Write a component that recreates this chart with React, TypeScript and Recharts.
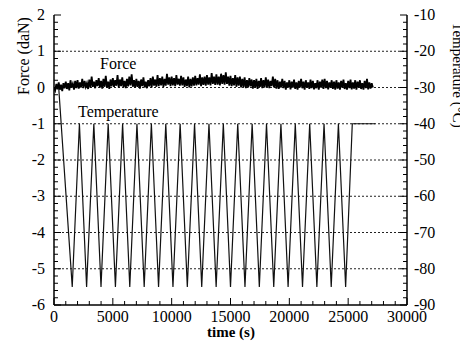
import { LineChart, Line, XAxis, YAxis, ReferenceLine } from 'recharts'

const FONT = '"Liberation Serif", "Times New Roman", Times, serif'

// axis labels / ticks
const xMajorTicks = [0, 5000, 10000, 15000, 20000, 25000, 30000]
const forceTicks = [-6, -5, -4, -3, -2, -1, 0, 1, 2]
const tempTicks = [-90, -80, -70, -60, -50, -40, -30, -20, -10]
const gridForce = [1, 0, -1, -2, -3, -4, -5]

// force (daN), sampled every 100 s from t = 0
const forceStep = 100
const forceValues = [
  0.0, -0.08, 0.1, -0.05, 0.14, -0.06, 0.08, -0.1, 0.12, -0.02,
  0.16, -0.04, 0.12, -0.08, 0.2, 0.0, 0.1, -0.06, 0.18, -0.02,
  0.2, -0.03, 0.14, 0.0, 0.24, -0.02, 0.18, 0.02, 0.12, -0.04,
  0.22, 0.0, 0.3, 0.02, 0.16, -0.02, 0.2, 0.04, 0.26, 0.0,
  0.18, -0.03, 0.24, 0.02, 0.32, 0.0, 0.16, -0.04, 0.22, 0.03,
  0.26, 0.02, 0.2, 0.05, 0.34, 0.0, 0.22, 0.04, 0.28, 0.01,
  0.18, -0.02, 0.24, 0.03, 0.3, 0.06, 0.36, 0.02, 0.2, 0.0,
  0.24, 0.02, 0.18, -0.03, 0.22, 0.04, 0.28, 0.0, 0.16, -0.02,
  0.2, 0.03, 0.26, 0.0, 0.3, 0.05, 0.22, 0.02, 0.34, 0.04,
  0.26, 0.06, 0.3, 0.02, 0.24, 0.05, 0.38, 0.08, 0.28, 0.04,
  0.3, 0.06, 0.26, 0.04, 0.34, 0.08, 0.24, 0.05, 0.32, 0.06,
  0.28, 0.02, 0.22, 0.04, 0.3, 0.0, 0.24, 0.03, 0.28, 0.05,
  0.32, 0.06, 0.26, 0.08, 0.36, 0.04, 0.28, 0.07, 0.3, 0.05,
  0.34, 0.08, 0.28, 0.06, 0.4, 0.1, 0.3, 0.07, 0.36, 0.08,
  0.3, 0.06, 0.38, 0.1, 0.34, 0.08, 0.42, 0.1, 0.3, 0.05,
  0.32, 0.04, 0.26, 0.06, 0.34, 0.02, 0.28, 0.05, 0.3, 0.0,
  0.24, 0.02, 0.28, -0.02, 0.2, 0.0, 0.26, 0.03, 0.22, -0.03,
  0.2, 0.0, 0.24, -0.04, 0.18, 0.02, 0.26, -0.02, 0.2, 0.0,
  0.28, 0.02, 0.22, -0.02, 0.18, 0.04, 0.3, 0.0, 0.24, -0.03,
  0.2, -0.04, 0.16, 0.0, 0.24, -0.02, 0.18, -0.06, 0.14, 0.0,
  0.2, -0.05, 0.16, 0.0, 0.22, -0.04, 0.14, -0.06, 0.18, 0.0,
  0.24, -0.02, 0.16, -0.06, 0.2, 0.0, 0.14, -0.04, 0.22, -0.02,
  0.18, -0.05, 0.12, -0.02, 0.2, -0.06, 0.16, 0.0, 0.22, -0.04,
  0.24, -0.02, 0.18, -0.05, 0.14, 0.0, 0.2, -0.04, 0.16, -0.06,
  0.2, -0.03, 0.14, -0.06, 0.18, 0.0, 0.22, -0.04, 0.12, -0.06,
  0.18, -0.02, 0.22, -0.05, 0.14, -0.03, 0.2, -0.06, 0.16, 0.0,
  0.2, -0.04, 0.12, -0.06, 0.18, -0.02, 0.24, -0.05, 0.14, -0.03,
  0.12, 0.0,
]

// temperature cycling (°C)
const tempTimes = [
  400, 1550, 2160, 2770, 3385, 3995, 4605, 5220, 5830, 6440, 7050, 7665, 8275, 8885,
  9500, 10110, 10720, 11330, 11945, 12555, 13170, 13780, 14390, 15000, 15615, 16230,
  16840, 17450, 18060, 18675, 19285, 19895, 20505, 21120, 21730, 22340, 22950, 23560,
  24170, 24785, 25350, 27300,
]
const tempValues = [
  -30, -85, -40, -85, -40, -85, -40, -85, -40, -85, -40, -85, -40, -85,
  -40, -85, -40, -85, -40, -85, -40, -85, -40, -85, -40, -85,
  -40, -85, -40, -85, -40, -85, -40, -85, -40, -85, -40, -85,
  -40, -85, -40, -40,
]

const forceData = forceValues.map((f, i) => ({ t: i * forceStep, f }))
const tempData = tempTimes.map((t, i) => ({ t, temp: tempValues[i] }))

// minor tick positions
const xAllTicks = Array.from({ length: 31 }, (_, i) => i * 1000)
const forceAllTicks = Array.from({ length: 41 }, (_, i) => -6 + i * 0.2)
const tempAllTicks = Array.from({ length: 41 }, (_, i) => -90 + i * 2)

const near = (list: number[], v: number) => list.some((m) => Math.abs(m - v) < 1e-6)
const txt = { fontSize: 16, fontFamily: FONT, fill: '#000', style: { fontFamily: FONT } }

function BottomTick({ x, y, payload }: any) {
  const v = payload.value
  const major = near(xMajorTicks, v)
  return (
    <g>
      <line x1={x} x2={x} y1={y} y2={y - (major ? 7 : 4)} stroke="#000" />
      {major && (
        <text x={x} y={y + 17} textAnchor="middle" {...txt}>
          {v}
        </text>
      )}
    </g>
  )
}

function TopTick({ x, y, payload }: any) {
  const major = near(xMajorTicks, payload.value)
  return <line x1={x} x2={x} y1={y} y2={y + (major ? 7 : 4)} stroke="#000" />
}

function LeftTick({ x, y, payload }: any) {
  const v = payload.value
  const major = near(forceTicks, v)
  return (
    <g>
      <line x1={x} x2={x + (major ? 7 : 4)} y1={y} y2={y} stroke="#000" />
      {major && (
        <text x={x - 9} y={y + 5} textAnchor="end" {...txt}>
          {Math.round(v)}
        </text>
      )}
    </g>
  )
}

function RightTick({ x, y, payload }: any) {
  const v = payload.value
  const major = near(tempTicks, v)
  return (
    <g>
      <line x1={x} x2={x - (major ? 7 : 4)} y1={y} y2={y} stroke="#000" />
      {major && (
        <text x={x + 7} y={y + 5} textAnchor="start" {...txt}>
          {Math.round(v)}
        </text>
      )}
    </g>
  )
}

export default function App() {
  return (
    <div style={{ position: 'absolute', left: 0, top: 0, width: 460, height: 343, background: '#fff' }}>
      <LineChart width={460} height={343} margin={{ top: 15, right: 0, bottom: 0, left: 0 }}>
        <XAxis
          xAxisId="b"
          dataKey="t"
          type="number"
          domain={[0, 30000]}
          ticks={xAllTicks}
          interval={0}
          tickSize={0}
          tickMargin={0}
          tickLine={false}
          tick={<BottomTick />}
          axisLine={{ stroke: '#000', strokeWidth: 1.5 }}
          height={38}
          allowDataOverflow
        />
        <XAxis
          xAxisId="top"
          orientation="top"
          dataKey="t"
          type="number"
          domain={[0, 30000]}
          ticks={xAllTicks}
          interval={0}
          tickSize={0}
          tickMargin={0}
          tickLine={false}
          tick={<TopTick />}
          axisLine={{ stroke: '#000', strokeWidth: 1.5 }}
          height={0}
          allowDataOverflow
        />
        <YAxis
          yAxisId="f"
          type="number"
          domain={[-6, 2]}
          ticks={forceAllTicks}
          interval={0}
          tickSize={0}
          tickMargin={0}
          tickLine={false}
          tick={<LeftTick />}
          axisLine={{ stroke: '#000', strokeWidth: 1.5 }}
          width={54}
          allowDataOverflow
        />
        <YAxis
          yAxisId="t"
          orientation="right"
          type="number"
          domain={[-90, -10]}
          ticks={tempAllTicks}
          interval={0}
          tickSize={0}
          tickMargin={0}
          tickLine={false}
          tick={<RightTick />}
          axisLine={{ stroke: '#000', strokeWidth: 1.5 }}
          width={53}
          allowDataOverflow
        />
        {gridForce.map((g) => (
          <ReferenceLine key={g} xAxisId="b" yAxisId="f" y={g} stroke="#222" strokeDasharray="2 2" />
        ))}
        <Line
          data={tempData}
          xAxisId="b"
          yAxisId="t"
          dataKey="temp"
          type="linear"
          stroke="#111"
          strokeWidth={1.2}
          dot={false}
          isAnimationActive={false}
        />
        <Line
          data={forceData}
          xAxisId="b"
          yAxisId="f"
          dataKey="f"
          type="linear"
          stroke="#000"
          strokeWidth={1.8}
          dot={false}
          isAnimationActive={false}
        />
      </LineChart>
      <svg
        width={460}
        height={343}
        style={{ position: 'absolute', left: 0, top: 0, pointerEvents: 'none', fontFamily: FONT }}
      >
        <text x={100} y={69} fontSize={16} fill="#000">Force</text>
        <text x={78} y={117} fontSize={16} fill="#000">Temperature</text>
        <text x={231} y={337} textAnchor="middle" fontSize={15} fontWeight="bold" fill="#000">time (s)</text>
        <text
          x={0}
          y={0}
          transform="translate(29,56) rotate(-90)"
          textAnchor="middle"
          fontSize={16}
          fill="#000"
        >
          Force (daN)
        </text>
        <text
          x={0}
          y={0}
          transform="translate(453,75) rotate(90)"
          textAnchor="middle"
          fontSize={15}
          fill="#000"
        >
          Temperature (°C)
        </text>
      </svg>
    </div>
  )
}
